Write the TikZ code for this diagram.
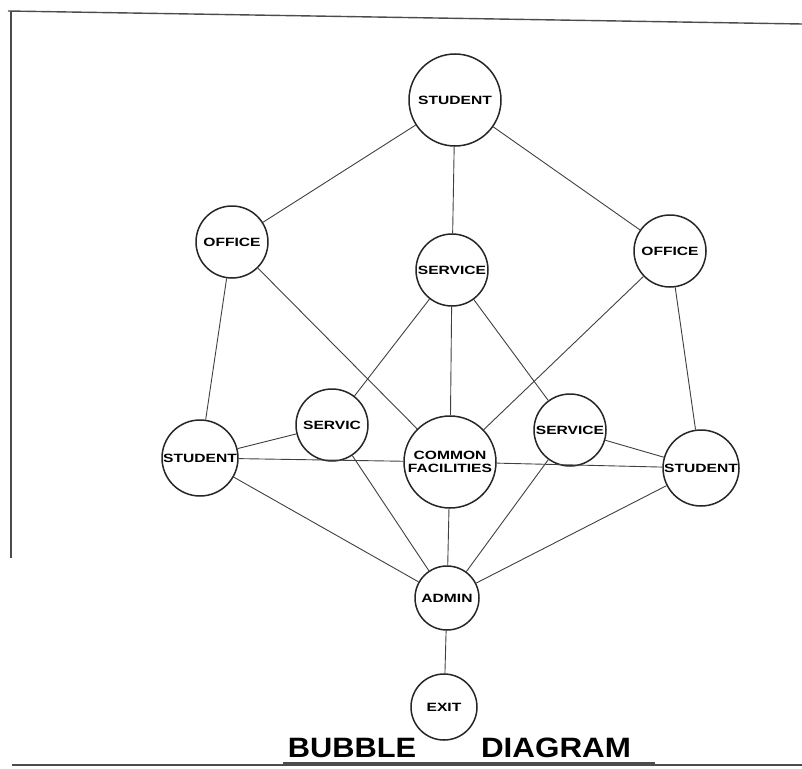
\documentclass[tikz,border=0pt]{standalone}
\usepackage{fontspec}
\setmainfont{Liberation Sans}
\begin{document}
\begin{tikzpicture}[x=1pt,y=-1pt,
  bub/.style={draw=black!85,line width=1.5pt,circle,inner sep=0pt,fill=white,font=\fontsize{12}{13}\selectfont\bfseries,align=center},
  edge/.style={draw=black!75,line width=0.9pt},
  frame/.style={draw=black!70,line width=1.4pt},
  ttl/.style={font=\fontsize{28}{28}\selectfont\bfseries,inner sep=0pt}]
\useasboundingbox (0,0) rectangle (802,768);
% frame
\coordinate (f1) at (8,11);
\coordinate (f2) at (802,24);
\coordinate (f3) at (11,11);
\coordinate (f4) at (11,558);
\coordinate (f5) at (12,765);
\coordinate (f6) at (802,765);
\coordinate (u1) at (283,763);
\coordinate (u2) at (655,763);
\draw[frame] (f1) -- (f2);
\draw[frame] (f3) -- (f4);
\draw[frame] (f5) -- (f6);
\draw[frame,line width=2.2pt] (u1) -- (u2);
% bubbles
\node[bub,minimum size=92pt] (st) at (455,100) {\scalebox{1.3}[1]{STUDENT}};
\node[bub,minimum size=72pt] (ol) at (232,242) {\scalebox{1.3}[1]{OFFICE}};
\node[bub,minimum size=72pt] (sv) at (452,270) {\scalebox{1.3}[1]{SERVICE}};
\node[bub,minimum size=72pt] (or) at (670,251) {\scalebox{1.3}[1]{OFFICE}};
\node[bub,minimum size=76pt] (sl) at (200,458) {\scalebox{1.3}[1]{STUDENT}};
\node[bub,minimum size=72pt] (svl) at (332,425) {\scalebox{1.3}[1]{SERVIC}};
\node[bub,minimum size=92pt] (cf) at (450,462) {\scalebox{1.3}[1]{COMMON}\\\scalebox{1.3}[1]{FACILITIES}};
\node[bub,minimum size=72pt] (svr) at (570,430) {\scalebox{1.3}[1]{SERVICE}};
\node[bub,minimum size=76pt] (sr) at (701,468) {\scalebox{1.3}[1]{STUDENT}};
\node[bub,minimum size=64pt] (ad) at (447,598) {\scalebox{1.3}[1]{ADMIN}};
\node[bub,minimum size=66pt] (ex) at (444,707) {\scalebox{1.3}[1]{EXIT}};
% edges
\draw[edge] (st) -- (ol);
\draw[edge] (st) -- (sv);
\draw[edge] (st) -- (or);
\draw[edge] (ol) -- (sl);
\draw[edge] (ol) -- (cf);
\draw[edge] (or) -- (sr);
\draw[edge] (or) -- (cf);
\draw[edge] (sv) -- (svl);
\draw[edge] (sv) -- (cf);
\draw[edge] (sv) -- (svr);
\draw[edge] (sl) -- (svl);
\draw[edge] (sl) -- (cf);
\draw[edge] (cf) -- (sr);
\draw[edge] (svr) -- (sr);
\draw[edge] (sl) -- (ad);
\draw[edge] (svl) -- (ad);
\draw[edge] (cf) -- (ad);
\draw[edge] (svr) -- (ad);
\draw[edge] (sr) -- (ad);
\draw[edge] (ad) -- (ex);
% title
\node[ttl] (t1) at (352,748) {\scalebox{1.1}[1]{BUBBLE}};
\node[ttl] (t2) at (556,748) {\scalebox{1.12}[1]{DIAGRAM}};
\end{tikzpicture}
\end{document}
